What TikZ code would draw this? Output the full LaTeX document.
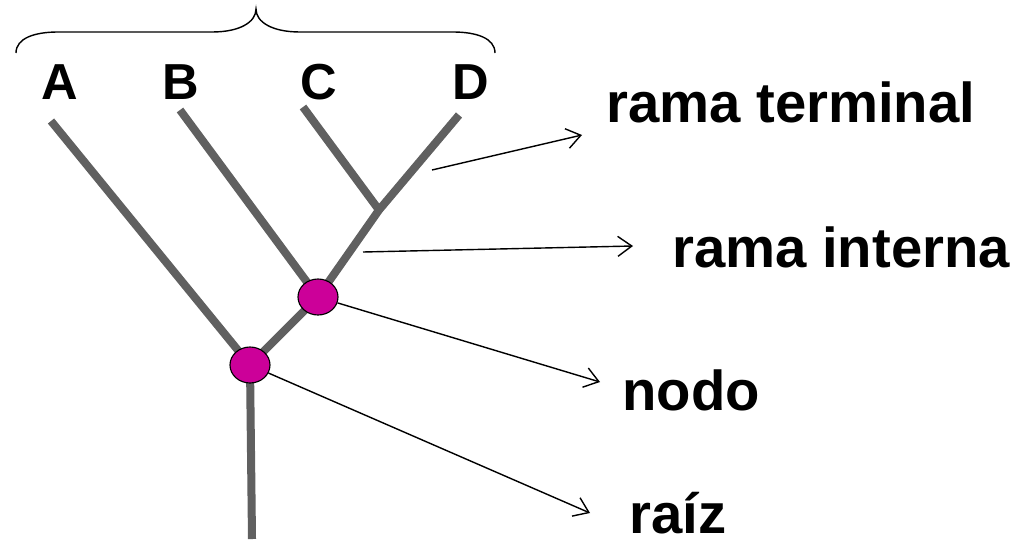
\documentclass[tikz,border=0pt]{standalone}
\usepackage{fontspec}
\setmainfont{Liberation Sans}
\usetikzlibrary{shapes.geometric,arrows.meta}
\definecolor{treegray}{RGB}{96,96,96}
\definecolor{nodopink}{RGB}{204,0,153}

\begin{document}
\begin{tikzpicture}[x=0.025cm,y=-0.025cm,
  branch/.style={line width=5.7pt,draw=treegray},
  nodo/.style={ellipse,draw=black,line width=0.8pt,fill=nodopink,minimum width=1cm,minimum height=0.9cm,inner sep=0pt},
  pointer/.style={line width=1pt,-{Straight Barb[length=3.5mm,width=5mm]}},
  leaf/.style={font=\bfseries\fontsize{36}{40}\selectfont,anchor=base,inner sep=0pt},
  term/.style={font=\bfseries\fontsize{40}{44}\selectfont,anchor=base west,inner sep=0pt,text depth=0pt}]
  \useasboundingbox (0,0) rectangle (1017,539);
  % llave sobre las hojas
  \draw[line width=1pt] (16,53) .. controls (16,38) and (35,32) .. (58,32) -- (212,32)
    .. controls (240,32) and (256,22) .. (256,9) .. controls (256,22) and (272,32) .. (300,32)
    -- (453,32) .. controls (476,32) and (495,38) .. (495,53);
  \node[leaf] (la) at (60,99)  {A};
  \node[leaf] (lb) at (181,99) {B};
  \node[leaf] (lc) at (319,99) {C};
  \node[leaf] (ld) at (471,99) {D};
  % arbol
  \coordinate (a) at (51,121);
  \coordinate (b) at (180,110);
  \coordinate (c) at (303,107);
  \coordinate (d) at (459,115);
  \coordinate (j) at (379,210);
  \coordinate (nc) at (318,297);
  \coordinate (rc) at (250,365);
  \coordinate (base) at (252,539);
  \draw[branch] (a) -- (rc) -- (nc) -- (j) -- (d);
  \draw[branch] (b) -- (nc);
  \draw[branch] (c) -- (j);
  \draw[branch] (base) -- (rc);
  \node[nodo] (r) at (rc) {};
  \node[nodo] (n) at (nc) {};
  % flechas
  \coordinate (tt) at (432,170);
  \coordinate (ti) at (363,252);
  \coordinate (et) at (582,135);
  \coordinate (ei) at (633,246);
  \coordinate (en) at (600,382);
  \coordinate (er) at (590,513);
  \draw[pointer] (tt) -- (et);
  \draw[pointer] (ti) -- (ei);
  \draw[pointer] (n) -- (en);
  \draw[pointer] (r) -- (er);
  \node[term] (lt) at (606,122) {rama terminal};
  \node[term] (li) at (672,267) {rama interna};
  \node[term] (ln) at (622,410) {nodo};
  \node[term] (lr) at (629,533) {raíz};
\end{tikzpicture}
\end{document}
